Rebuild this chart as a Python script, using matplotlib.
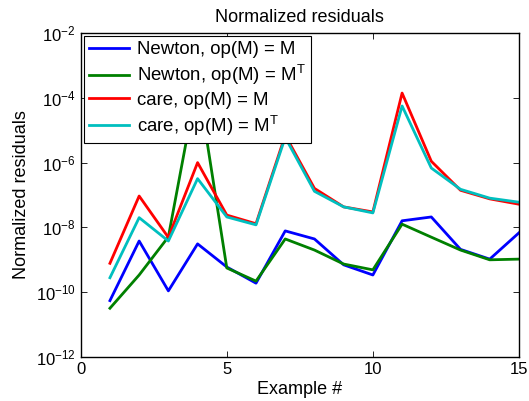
import numpy as np
import matplotlib
matplotlib.use("Agg")
import matplotlib.pyplot as plt

plt.rcParams['font.family'] = ['Liberation Sans', 'DejaVu Sans']
plt.rcParams['mathtext.fontset'] = 'custom'
plt.rcParams['mathtext.rm'] = 'Liberation Sans'
plt.rcParams['mathtext.it'] = 'Liberation Sans:italic'
plt.rcParams['mathtext.sf'] = 'Liberation Sans'

# example index
examples = np.arange(1, 16)

# normalized residuals
newton_m = [5.5e-11, 3.8e-9, 1.1e-10, 3.1e-9, 6e-10, 1.9e-10, 7.8e-9, 4.4e-9,
            7e-10, 3.4e-10, 1.6e-8, 2.1e-8, 2.1e-9, 1.05e-9, 6.8e-9]
newton_mt = [3.2e-11, 3.4e-10, 5.1e-9, 3.3e-4, 5.6e-10, 2.2e-10, 4.4e-9, 2e-9,
             7.4e-10, 4.9e-10, 1.26e-8, 5e-9, 2e-9, 1e-9, 1.05e-9]
care_m = [7.8e-10, 9.3e-8, 4.9e-9, 1e-6, 2.4e-8, 1.3e-8, 7e-6, 1.6e-7,
          4.3e-8, 3e-8, 1.4e-4, 1.1e-6, 1.4e-7, 7.6e-8, 5.2e-8]
care_mt = [2.8e-10, 2e-8, 3.8e-9, 3.2e-7, 2.1e-8, 1.2e-8, 6e-6, 1.3e-7,
           4.3e-8, 2.8e-8, 5.6e-5, 6.8e-7, 1.5e-7, 8e-8, 6e-8]

labels = ['Newton, op(M) = M', r'Newton, op(M) = M$^{\mathrm{T}}$',
          'care, op(M) = M', r'care, op(M) = M$^{\mathrm{T}}$']
colors = ['#0000ff', '#008000', '#ff0000', '#00bfbf']

fig = plt.figure(figsize=(5.29, 4.01), dpi=100)
ax = fig.add_axes([0.1526, 0.1097, 0.8284, 0.808])

for y, c, lab in zip([newton_m, newton_mt, care_m, care_mt], colors, labels):
    ax.plot(examples, y, color=c, lw=2, label=lab)

ax.set_yscale('log')
ax.set_xlim(0, 15)
ax.set_ylim(1e-12, 1e-2)
ax.set_xticks([0, 5, 10, 15])
ax.set_yticks([1e-12, 1e-10, 1e-8, 1e-6, 1e-4, 1e-2])
ax.minorticks_off()
ax.tick_params(direction='in', top=True, right=True, labelsize=12, length=4,
               width=0.6)
for s in ax.spines.values():
    s.set_linewidth(1)

ax.set_title('Normalized residuals', fontsize=13, pad=8)
ax.set_xlabel('Example #', fontsize=13, labelpad=3)
ax.set_ylabel('Normalized residuals', fontsize=13, labelpad=4)

leg = ax.legend(loc='upper left', fontsize=13.4, frameon=True, fancybox=False,
                framealpha=1, edgecolor='black', borderpad=0.3,
                labelspacing=0.25, handlelength=2.15, handletextpad=0.4,
                borderaxespad=0.15)
leg.get_frame().set_linewidth(0.8)

fig.savefig('out.png', dpi=100)
